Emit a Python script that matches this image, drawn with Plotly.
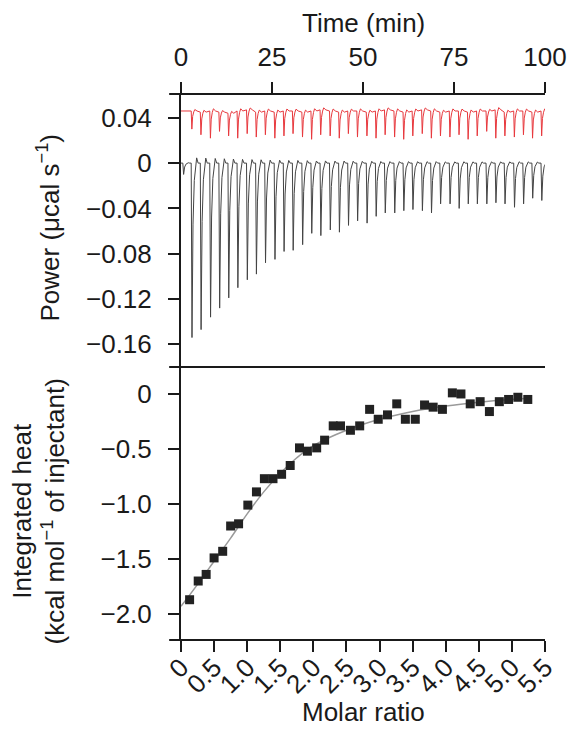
import plotly.graph_objects as go

# ---------------- data ----------------
# Raw ITC power trace: injection times (min) and peak minima (µcal/s)
pre_injection_time = 0.5
pre_injection_depth = -0.010

injection_time = [2.8, 5.3, 7.9, 10.4, 12.9, 15.4, 18.0, 20.5, 23.0, 25.6,
                  28.1, 30.6, 33.2, 35.7, 38.2, 40.8, 43.3, 45.8, 48.3, 50.9,
                  53.4, 55.9, 58.5, 61.0, 63.5, 66.1, 68.6, 71.1, 73.7, 76.2,
                  78.7, 81.2, 83.8, 86.3, 88.8, 91.4, 93.9, 96.4, 98.9]

sample_peak = [-0.154, -0.147, -0.136, -0.128, -0.119, -0.110, -0.103, -0.098, -0.088, -0.085,
               -0.078, -0.077, -0.072, -0.062, -0.064, -0.059, -0.061, -0.055, -0.051, -0.053,
               -0.047, -0.044, -0.044, -0.042, -0.041, -0.042, -0.044, -0.036, -0.036, -0.040,
               -0.036, -0.036, -0.036, -0.035, -0.036, -0.039, -0.036, -0.031, -0.033]

# control (ligand into buffer) trace, offset baseline and minima
control_baseline = [0.046, 0.045, 0.046, 0.045, 0.044, 0.046, 0.047, 0.045, 0.046, 0.045,
                    0.046, 0.046, 0.045, 0.046, 0.047, 0.046, 0.045, 0.046, 0.046, 0.045,
                    0.046, 0.047, 0.046, 0.045, 0.046, 0.047, 0.046, 0.045, 0.046, 0.046,
                    0.045, 0.046, 0.046, 0.047, 0.045, 0.046, 0.046, 0.045, 0.046]
control_peak = [0.030, 0.025, 0.022, 0.028, 0.024, 0.022, 0.026, 0.023, 0.025, 0.022,
                0.024, 0.026, 0.023, 0.021, 0.025, 0.024, 0.022, 0.026, 0.023, 0.024,
                0.022, 0.025, 0.023, 0.021, 0.024, 0.026, 0.022, 0.024, 0.023, 0.025,
                0.021, 0.024, 0.028, 0.022, 0.024, 0.023, 0.025, 0.022, 0.024]

# Integrated heats
molar_ratio = [0.13, 0.26, 0.38, 0.50, 0.63, 0.75, 0.87, 1.01, 1.14, 1.26,
               1.39, 1.52, 1.65, 1.79, 1.91, 2.05, 2.17, 2.30, 2.41, 2.56,
               2.70, 2.85, 2.98, 3.12, 3.26, 3.39, 3.54, 3.68, 3.81, 3.95,
               4.10, 4.23, 4.37, 4.52, 4.66, 4.81, 4.95, 5.09, 5.24]
heat = [-1.87, -1.70, -1.64, -1.49, -1.43, -1.20, -1.18, -1.01, -0.89, -0.77,
        -0.77, -0.73, -0.65, -0.49, -0.52, -0.49, -0.42, -0.29, -0.29, -0.33,
        -0.29, -0.14, -0.23, -0.19, -0.09, -0.23, -0.23, -0.10, -0.12, -0.14,
        0.01, 0.00, -0.09, -0.07, -0.16, -0.07, -0.05, -0.03, -0.05]

fit_ratio = [0.0, 0.25, 0.5, 0.75, 1.0, 1.25, 1.5, 1.75, 2.0, 2.5, 3.0, 3.5, 4.0, 4.5, 5.0, 5.3]
fit_heat = [-1.93, -1.73, -1.52, -1.31, -1.09, -0.89, -0.72, -0.58, -0.47, -0.33,
            -0.23, -0.16, -0.11, -0.075, -0.05, -0.04]

time_ticks = [0, 25, 50, 75, 100]
power_ticks = [0.04, 0, -0.04, -0.08, -0.12, -0.16]
power_ticktext = ["0.04", "0", "\u22120.04", "\u22120.08", "\u22120.12", "\u22120.16"]
heat_ticks = [0, -0.5, -1.0, -1.5, -2.0]
heat_ticktext = ["0", "\u22120.5", "\u22121.0", "\u22121.5", "\u22122.0"]
ratio_ticks = [0, 0.5, 1.0, 1.5, 2.0, 2.5, 3.0, 3.5, 4.0, 4.5, 5.0, 5.5]
ratio_ticktext = ["0", "0.5", "1.0", "1.5", "2.0", "2.5", "3.0", "3.5", "4.0", "4.5", "5.0", "5.5"]

# ---------------- build traces from the data ----------------
PROFILE = [(0.0, 0.0), (0.22, 1.0), (0.5, 0.35), (0.85, 0.10), (1.25, 0.02), (1.5, -0.03), (1.9, 0.0)]
CONTROL_PROFILE = [(0.0, 0.0), (0.18, 1.0), (0.4, 0.3), (0.7, 0.05), (1.0, -0.08), (1.6, 0.0)]


def build_trace(times, peaks, baselines, start_level, profile, pre_t=None, pre_d=None):
    xs, ys = [0.0], [start_level]
    if pre_t is not None:
        for dt, f in profile:
            xs.append(pre_t + dt)
            ys.append(start_level + f * pre_d)
    for t, p, b in zip(times, peaks, baselines):
        depth = p - b
        for dt, f in profile:
            xs.append(t + dt)
            ys.append(b + f * depth)
    xs.append(100.0)
    ys.append(baselines[-1])
    return xs, ys


bx, by = build_trace(injection_time, sample_peak, [0.0] * len(injection_time), 0.0,
                     PROFILE, pre_injection_time, pre_injection_depth)
rx, ry = build_trace(injection_time, control_peak, control_baseline, control_baseline[0],
                     CONTROL_PROFILE)

fig = go.Figure()
fig.add_trace(go.Scatter(x=rx, y=ry, mode="lines", line=dict(color="#e8383d", width=1),
                         xaxis="x", yaxis="y", showlegend=False, hoverinfo="skip"))
fig.add_trace(go.Scatter(x=bx, y=by, mode="lines", line=dict(color="#444444", width=1),
                         xaxis="x", yaxis="y", showlegend=False, hoverinfo="skip"))
fig.add_trace(go.Scatter(x=fit_ratio, y=fit_heat, mode="lines",
                         line=dict(color="#9a9a9a", width=1.5, shape="spline"),
                         xaxis="x2", yaxis="y2", showlegend=False))
fig.add_trace(go.Scatter(x=molar_ratio, y=heat, mode="markers",
                         marker=dict(symbol="square", size=9, color="#222222"),
                         xaxis="x2", yaxis="y2", showlegend=False))

FONT = "Liberation Sans, Arial, sans-serif"
FS = 26
axis_common = dict(showgrid=False, zeroline=False, ticks="outside", ticklen=11, tickwidth=2,
                   tickcolor="#1a1a1a", tickfont=dict(family=FONT, size=FS, color="#1a1a1a"))

# page body has an 8px margin, so the figure is drawn 8px smaller
fig.update_layout(
    width=571, height=726,
    margin=dict(l=173, r=29, t=86, b=94),
    paper_bgcolor="white", plot_bgcolor="white",
    font=dict(family=FONT, size=FS, color="#1a1a1a"),
    xaxis=dict(domain=[0, 1], anchor="y", side="top", range=[0, 100],
               tickvals=time_ticks, ticktext=[str(v) for v in time_ticks],
               showline=False, ticklabelstandoff=6, **axis_common),
    yaxis=dict(domain=[0.5, 1], anchor="x", range=[-0.180, 0.061],
               tickvals=power_ticks, ticktext=power_ticktext,
               showline=True, linewidth=2, linecolor="#1a1a1a", ticklabelstandoff=11,
               **axis_common),
    xaxis2=dict(domain=[0, 1], anchor="y2", range=[0, 5.5],
                tickvals=ratio_ticks, ticktext=ratio_ticktext, tickangle=-45,
                showline=False, ticklabelstandoff=-10, **axis_common),
    yaxis2=dict(domain=[0, 0.5], anchor="x2", range=[-2.236, 0.245],
                tickvals=heat_ticks, ticktext=heat_ticktext,
                showline=True, linewidth=2, linecolor="#1a1a1a", ticklabelstandoff=11,
                **axis_common),
)

ext = -12 / 369
for yy in (1.0, 0.5, 0.0):
    fig.add_shape(type="line", xref="paper", yref="paper", x0=ext, x1=1, y0=yy, y1=yy,
                  line=dict(color="#1a1a1a", width=2))

fig.add_annotation(text="Time (min)", xref="paper", yref="paper", x=0.5, y=1, yshift=71,
                   showarrow=False, font=dict(family=FONT, size=FS), yanchor="middle")
fig.add_annotation(text="Molar ratio", xref="paper", yref="paper", x=0.5, y=0, yshift=-72,
                   showarrow=False, font=dict(family=FONT, size=FS), yanchor="middle")
fig.add_annotation(text="Power (\u03bccal s<sup>\u22121</sup>)", xref="paper", yref="paper",
                   x=0, xshift=-132, y=0.75, yshift=2, textangle=-90, showarrow=False,
                   font=dict(family=FONT, size=FS), xanchor="center", yanchor="middle")
fig.add_annotation(text="Integrated heat<br>(kcal mol<sup>\u22121</sup> of injectant)",
                   xref="paper", yref="paper", x=0, xshift=-143, y=0.25, yshift=-8,
                   textangle=-90, showarrow=False, font=dict(family=FONT, size=FS),
                   xanchor="center", yanchor="middle")

fig.write_html("out.html")
